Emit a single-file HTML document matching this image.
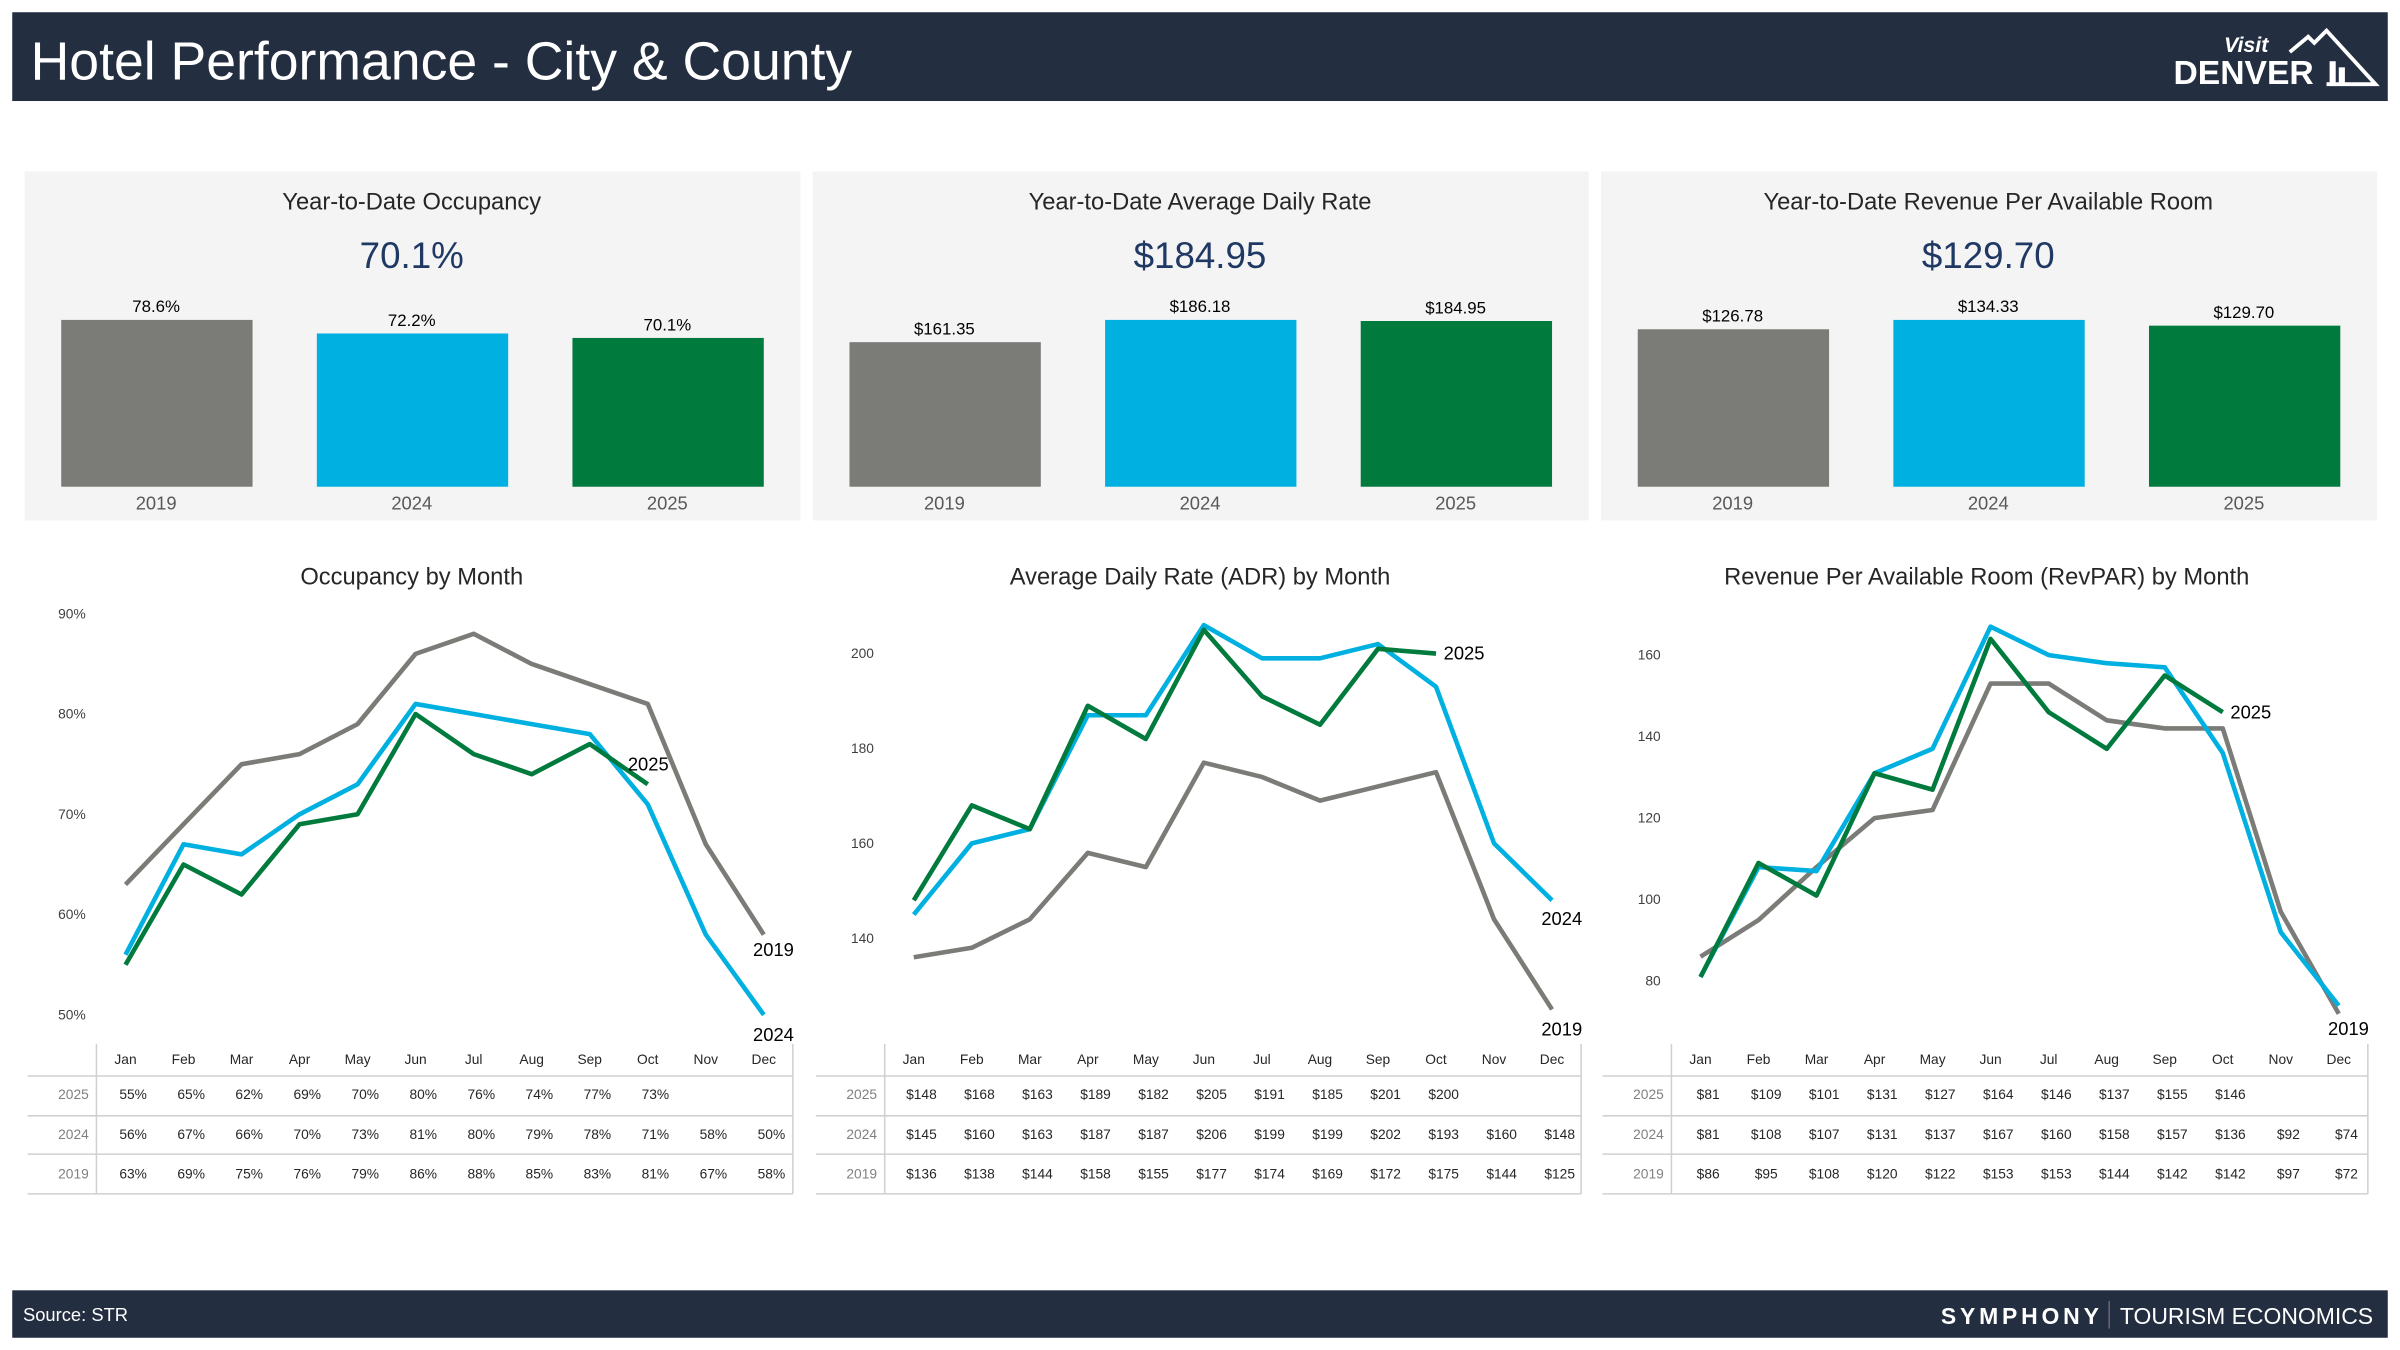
<!DOCTYPE html>
<html><head><meta charset="utf-8">
<style>
html,body{margin:0;padding:0;background:#fff;}
svg{display:block;font-family:"Liberation Sans",sans-serif;}
</style></head>
<body>
<svg id="root" width="2400" height="1350" viewBox="0 0 1568 882" preserveAspectRatio="none" xmlns="http://www.w3.org/2000/svg">
  <rect x="8" y="8" width="1552" height="58" fill="#232e40"/>
  <text x="20" y="52" font-size="35" fill="#fff">Hotel Performance - City &amp; County</text>
  <g>
    <text x="1453" y="34" font-size="14" font-style="italic" font-weight="bold" fill="#fff">Visit</text>
    <text x="1420" y="55" font-size="22" font-weight="bold" fill="#fff">DENVER</text>
    <polyline points="1496,34 1508,24 1512,28 1520,20 1552,55 1520,55" fill="none" stroke="#fff" stroke-width="2.5"/>
    <rect x="1522" y="40" width="4" height="15" fill="#fff"/><rect x="1528" y="44" width="4" height="11" fill="#fff"/>
  </g>
  <rect x="8" y="843" width="1552" height="31" fill="#232e40"/>
  <text x="15" y="863" font-size="12" fill="#fff">Source: STR</text>
  <text x="1268" y="865" font-size="15" font-weight="bold" letter-spacing="2.5" fill="#fff">SYMPHONY</text>
  <line x1="1378" y1="850" x2="1378" y2="868" stroke="#667" stroke-width="1"/>
  <text x="1385" y="865" font-size="15" fill="#fff">TOURISM ECONOMICS</text>
  <g id="kpis"></g>
  <g id="charts"></g>
</svg>
<script>
const NS='http://www.w3.org/2000/svg';
const years=['2019','2024','2025'];
const occYtd=[78.6,72.2,70.1];
const adrYtd=[161.35,186.18,184.95];
const revYtd=[126.78,134.33,129.70];
const months=['Jan','Feb','Mar','Apr','May','Jun','Jul','Aug','Sep','Oct','Nov','Dec'];
const occ2025=[55,65,62,69,70,80,76,74,77,73];
const occ2024=[56,67,66,70,73,81,80,79,78,71,58,50];
const occ2019=[63,69,75,76,79,86,88,85,83,81,67,58];
const adr2025=[148,168,163,189,182,205,191,185,201,200];
const adr2024=[145,160,163,187,187,206,199,199,202,193,160,148];
const adr2019=[136,138,144,158,155,177,174,169,172,175,144,125];
const rev2025=[81,109,101,131,127,164,146,137,155,146];
const rev2024=[81,108,107,131,137,167,160,158,157,136,92,74];
const rev2019=[86,95,108,120,122,153,153,144,142,142,97,72];
const occTicks=[50,60,70,80,90];
const adrTicks=[140,160,180,200];
const revTicks=[80,100,120,140,160];
const COL={'2019':'#7b7b77','2024':'#00b0e0','2025':'#007a3d'};

function mk(tag,attrs,parent,txt){const e=document.createElementNS(NS,tag);for(const k in attrs)e.setAttribute(k,attrs[k]);if(txt!==undefined)e.textContent=txt;parent.appendChild(e);return e;}

const kpis=document.getElementById('kpis');
const kpiDefs=[
 {name:'occupancy',title:'Year-to-Date Occupancy',vals:occYtd,fmt:v=>v.toFixed(1)+'%',x:16},
 {name:'adr',title:'Year-to-Date Average Daily Rate',vals:adrYtd,fmt:v=>'$'+v.toFixed(2),x:531},
 {name:'revpar',title:'Year-to-Date Revenue Per Available Room',vals:revYtd,fmt:v=>'$'+v.toFixed(2),x:1046}];
kpiDefs.forEach(d=>{
  const g=mk('g',{},kpis);
  
  
  mk('rect',{x:d.x,y:112,width:507,height:228,fill:'#f4f4f4'},g);
  const cx=d.x+253;
  const t=mk('text',{x:cx,y:137,'font-size':15.5,'text-anchor':'middle',fill:'#262626'},g,d.title);
  
  
  const v=mk('text',{x:cx,y:175,'font-size':24,'text-anchor':'middle',fill:'#1f3864'},g,d.fmt(d.vals[2]));
  
  
  const max=Math.max(...d.vals), base=318, hmax=109;
  d.vals.forEach((val,i)=>{
    const bx=d.x+24+i*167, h=val/max*hmax;
    const r=mk('rect',{x:bx,y:base-h,width:125,height:h,fill:COL[years[i]]},g);
    
    
    const l=mk('text',{x:bx+62,y:base-h-5,'font-size':11,'text-anchor':'middle',fill:'#000'},g,d.fmt(val));
    
    
    const yl=mk('text',{x:bx+62,y:333,'font-size':12,'text-anchor':'middle',fill:'#595959'},g,years[i]);
    
    
  });
});

const charts=document.getElementById('charts');
const chartDefs=[
 {name:'occupancy',title:'Occupancy by Month',ox:0,s:{'2025':occ2025,'2024':occ2024,'2019':occ2019},ticks:occTicks,t0:50,t1:90,y0:663,y1:401,tickFmt:v=>v+'%',cellFmt:v=>v+'%',
  lab:{'2025':[-13,-9],'2024':[-7,17],'2019':[-7,14]}},
 {name:'adr',title:'Average Daily Rate (ADR) by Month',ox:515,s:{'2025':adr2025,'2024':adr2024,'2019':adr2019},ticks:adrTicks,t0:140,t1:200,y0:613,y1:427,tickFmt:v=>v,cellFmt:v=>'$'+v,
  lab:{'2025':[5,4],'2024':[-7,16],'2019':[-7,17]}},
 {name:'revpar',title:'Revenue Per Available Room (RevPAR) by Month',ox:1029,s:{'2025':rev2025,'2024':rev2024,'2019':rev2019},ticks:revTicks,t0:80,t1:160,y0:641,y1:428,tickFmt:v=>v,cellFmt:v=>'$'+v,
  lab:{'2025':[5,4],'2019':[-7,14]}}];
chartDefs.forEach(d=>{
  const g=mk('g',{},charts);
  
  
  const ox=d.ox;
  const xs=i=>ox+82+i*(417/11);
  const ys=v=>d.y0+(v-d.t0)*(d.y1-d.y0)/(d.t1-d.t0);
  const t=mk('text',{x:ox+269,y:382,'font-size':15.5,'text-anchor':'middle',fill:'#262626'},g,d.title);
  
  
  d.ticks.forEach(tk=>{
    const e=mk('text',{x:ox+56,y:ys(tk)+3,'font-size':9,'text-anchor':'end',fill:'#404040'},g,d.tickFmt(tk));
    
    
  });
  ['2019','2024','2025'].forEach(yr=>{
    const arr=d.s[yr];
    const pts=arr.map((v,i)=>xs(i).toFixed(1)+','+ys(v).toFixed(1)).join(' ');
    const p=mk('polyline',{points:pts,fill:'none',stroke:COL[yr],'stroke-width':3,'stroke-linejoin':'round'},g);
    
    
    if(d.lab[yr]){
      const n=arr.length-1;
      const l=mk('text',{x:xs(n)+d.lab[yr][0],y:ys(arr[n])+d.lab[yr][1],'font-size':12,fill:'#000'},g,yr);
      
      
    }
  });
  const L=ox+18,R=ox+518,V=ox+63;
  const tg=mk('g',{},g);
  
  
  [703,729,754,780].forEach(y=>mk('line',{x1:L,x2:R,y1:y,y2:y,stroke:'#d0d0d0','stroke-width':1},tg));
  mk('line',{x1:V,x2:V,y1:682,y2:780,stroke:'#d0d0d0','stroke-width':1},tg);
  mk('line',{x1:R,x2:R,y1:682,y2:780,stroke:'#d0d0d0','stroke-width':1},tg);
  months.forEach((m,i)=>{
    const e=mk('text',{x:xs(i),y:695,'font-size':9,'text-anchor':'middle',fill:'#262626'},tg,m);
    
    
  });
  [['2025',718],['2024',744],['2019',770]].forEach(([yr,y])=>{
    const e=mk('text',{x:V-5,y:y,'font-size':9,'text-anchor':'end',fill:'#808080'},tg,yr);
    
    
    d.s[yr].forEach((v,i)=>{
      const c=mk('text',{x:xs(i)+5,y:y,'font-size':9,'text-anchor':'middle',fill:'#262626'},tg,d.cellFmt(v));
      
      
    });
  });
});
</script>
</body></html>
